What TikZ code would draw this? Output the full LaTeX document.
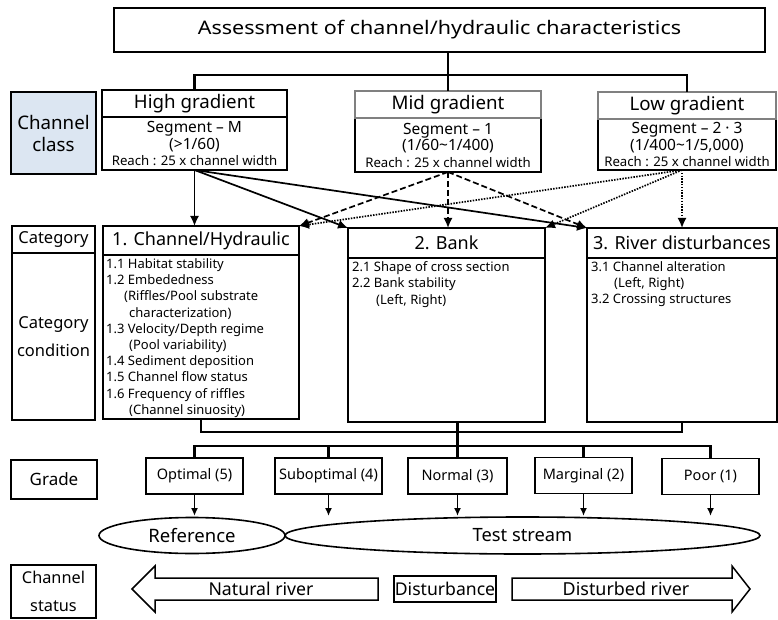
\documentclass[tikz,border=0pt]{standalone}
\usepackage{fontspec}
\setmainfont{Noto Sans}
\newfontfamily\widefont[FakeStretch=1.15]{Noto Sans}
\usetikzlibrary{arrows.meta,shapes.geometric}
\definecolor{classblue}{HTML}{DCE6F2}
\definecolor{hdrgray}{HTML}{808080}
\newcommand\fsz[2]{\fontsize{#1}{#2}\selectfont}
\tikzset{
 box/.style={draw, line width=1.4pt, inner sep=0pt, outer sep=0pt, align=center, fill=white},
 conn/.style={line width=2.2pt},
 arr/.style={line width=1.7pt, -{Latex[length=10pt,width=9pt]}},
 dasharr/.style={arr, dash pattern=on 6pt off 3pt},
 dotarr/.style={arr, dash pattern=on 1.5pt off 1.3pt},
 garr/.style={line width=1.8pt, -{Latex[length=8pt,width=7pt]}},
 listtxt/.style={inner sep=0pt, align=left, anchor=north west, font=\fsz{13}{16.2}},
 bigarrow/.style={draw, line width=1.5pt, fill=white},
}
\begin{document}
\begin{tikzpicture}[x=1pt,y=-1pt]
\useasboundingbox (0,0) rectangle (778,620);
% top
\node[box, line width=1.5pt, minimum width=651pt, minimum height=44pt, font=\widefont\fsz{18.7}{22}] (top) at (439.5,30) {Assessment of channel/hydraulic characteristics};
% channel class
\node[box, fill=classblue, line width=2pt, minimum width=85pt, minimum height=82pt, font=\fsz{18.7}{22}] (cls) at (53.5,133) {Channel\\class};
\node[box, minimum width=185pt, minimum height=53pt, font=\fsz{15.5}{16.5}] (highs) at (194.5,143.5) {Segment -- M\\(>1/60)\\{\fsz{13.2}{16.5}Reach : 25 x channel width}};
\node[box, line width=2pt, minimum width=185pt, minimum height=27pt, font=\fsz{18.7}{22}] (highh) at (194.5,103.5) {High gradient};
\node[box, minimum width=186pt, minimum height=54pt, font=\fsz{15.5}{16.5}] (mids) at (448,145) {Segment -- 1\\(1/60\textasciitilde 1/400)\\{\fsz{13.2}{16.5}Reach : 25 x channel width}};
\node[box, draw=hdrgray, minimum width=186pt, minimum height=27pt, font=\fsz{18.7}{22}] (midh) at (448,104.5) {Mid gradient};
\node[box, minimum width=178pt, minimum height=51pt, font=\fsz{15.5}{16.5}] (lows) at (687,144.5) {Segment -- 2 · 3\\(1/400\textasciitilde 1/5,000)\\{\fsz{13.2}{16.5}Reach : 25 x channel width}};
\node[box, draw=hdrgray, minimum width=178pt, minimum height=27pt, font=\fsz{18.7}{22}] (lowh) at (687,105.5) {Low gradient};
% top connectors
\coordinate (hl) at (0,75);
\draw[conn] (top.south -| midh.north) -- (midh.north);
\draw[conn] (highh.north) -- (highh.north |- hl) -- (lowh.north |- hl) -- (lowh.north);
% categories
\node[box, minimum width=83pt, minimum height=27pt, font=\fsz{16.5}{20}] (catl) at (53.5,239.5) {Category};
\node[box, minimum width=83pt, minimum height=167pt, font=\fsz{16.5}{28}] (condl) at (53.5,336.5) {Category\\condition};
\node[box, minimum width=196pt, minimum height=164pt] (c1b) at (201,337) {};
\node[box, line width=1.7pt, minimum width=196pt, minimum height=29pt, font=\fsz{18}{22}] (c1h) at (201,240.5) {1. Channel/Hydraulic};
\node[box, minimum width=197pt, minimum height=164pt] (c2b) at (446.5,340) {};
\node[box, line width=1.7pt, minimum width=197pt, minimum height=30pt, font=\fsz{18}{22}] (c2h) at (446.5,243) {2. Bank};
\node[box, minimum width=190pt, minimum height=164pt] (c3b) at (682,340) {};
\node[box, line width=1.7pt, minimum width=190pt, minimum height=30pt, font=\fsz{18}{22}] (c3h) at (682,243) {3. River disturbances};
\node[listtxt] (l1) at (106,258.5) {1.1 Habitat stability\\
1.2 Embededness\\
\hspace*{18pt}(Riffles/Pool substrate\\
\hspace*{23pt}characterization)\\
1.3 Velocity/Depth regime\\
\hspace*{23pt}(Pool variability)\\
1.4 Sediment deposition\\
1.5 Channel flow status\\
1.6 Frequency of riffles\\
\hspace*{23pt}(Channel sinuosity)};
\node[listtxt] (l2) at (352,261.5) {2.1 Shape of cross section\\
2.2 Bank stability\\
\hspace*{24pt}(Left, Right)};
\node[listtxt] (l3) at (591,261.5) {3.1 Channel alteration\\
\hspace*{23pt}(Left, Right)\\
3.2 Crossing structures};
% class -> category arrows
\draw[arr] (highs.south) -- (highs.south |- c1h.north);
\draw[arr] (highs.south) -- (c2h.north west);
\draw[arr] (highs.south) -- (c3h.north west);
\draw[dasharr] (mids.south) -- (c1h.north east);
\draw[dasharr] (mids.south) -- (mids.south |- c2h.north);
\draw[dasharr] (mids.south) -- (c3h.north west);
\draw[dotarr] (c3h.north |- lows.south) -- (c1h.north east);
\draw[dotarr] (c3h.north |- lows.south) -- (c2h.north east);
\draw[dotarr] (c3h.north |- lows.south) -- (c3h.north);
% grades
\node[box, line width=1.6pt, minimum width=86pt, minimum height=39pt, font=\fsz{17}{20}] (gradel) at (54,479.5) {Grade};
\node[box, minimum width=97pt, minimum height=36pt, font=\fsz{14.5}{18}] (g5) at (194.5,476) {Optimal (5)};
\node[box, minimum width=107pt, minimum height=36pt, font=\fsz{14.5}{18}] (g4) at (328.5,476) {Suboptimal (4)};
\node[box, minimum width=99pt, minimum height=36pt, font=\fsz{14.5}{18}] (g3) at (457.5,476) {Normal (3)};
\node[box, minimum width=97pt, minimum height=36pt, font=\fsz{14.5}{18}] (g2) at (583.5,475.5) {Marginal (2)};
\node[box, minimum width=97pt, minimum height=36pt, font=\fsz{14.5}{18}] (g1) at (710.5,476.5) {Poor (1)};
\coordinate (cl) at (0,432);
\coordinate (gl) at (0,446);
\draw[conn] (c1b.south) -- (c1b.south |- cl) -- (c3b.south |- cl) -- (c3b.south);
\draw[conn] (g3.north |- c2b.south) -- (g3.north);
\draw[conn] (g5.north) -- (g5.north |- gl) -- (g1.north |- gl) -- (g1.north);
\draw[conn] (g4.north) -- (g4.north |- gl);
\draw[conn] (g2.north) -- (g2.north |- gl);
% ellipses
\node[ellipse, draw, line width=1.6pt, inner sep=0pt, minimum width=186pt, minimum height=36pt, font=\fsz{18.5}{22}] (ref) at (192,535.5) {Reference};
\node[ellipse, draw, line width=1.6pt, inner sep=0pt, minimum width=475pt, minimum height=37pt, font=\fsz{18.3}{22}] (test) at (522.5,535.5) {Test stream};
\coordinate (ga) at (0,516);
\foreach \g in {g5,g4,g3,g2,g1} \draw[garr] (\g.south) -- (\g.south |- ga);
% channel status
\node[box, line width=1.6pt, minimum width=85pt, minimum height=53pt, font=\fsz{16.3}{28}] (stat) at (53.5,591.5) {Channel\\status};
\draw[bigarrow] (132,589) -- (155,566) -- (155,578) -- (378,578) -- (378,600) -- (155,600) -- (155,612) -- cycle;
\node[inner sep=0pt, font=\fsz{17.7}{20}] (nat) at (261,589) {Natural river};
\node[box, line width=2pt, minimum width=102pt, minimum height=26pt, font=\fsz{17.6}{20}] (dist) at (445,589) {Disturbance};
\draw[bigarrow] (750,589) -- (732,566) -- (732,578) -- (512,578) -- (512,600) -- (732,600) -- (732,612) -- cycle;
\node[inner sep=0pt, font=\fsz{17.9}{20}] (dis) at (626,589) {Disturbed river};
\end{tikzpicture}
\end{document}
